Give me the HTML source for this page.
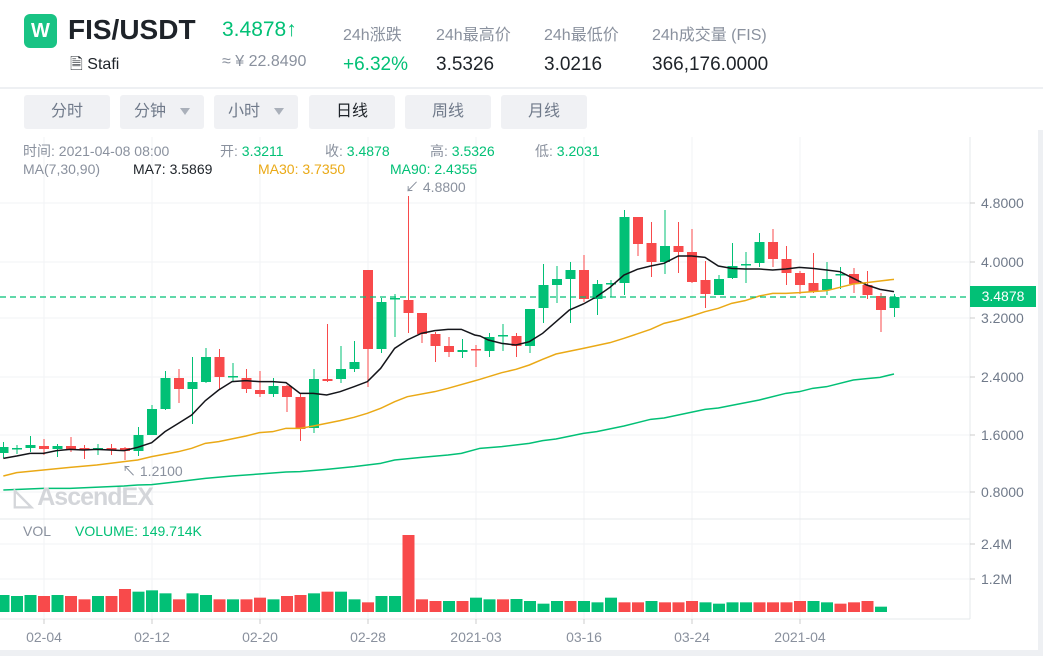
<!DOCTYPE html>
<html><head><meta charset="utf-8">
<style>
*{margin:0;padding:0;box-sizing:border-box}
body{width:1043px;height:656px;background:#fff;font-family:"Liberation Sans","Noto Sans CJK SC",sans-serif;position:relative;overflow:hidden}
.a{position:absolute;white-space:nowrap}
.btn{position:absolute;top:95px;height:34px;width:86px;background:#f0f1f4;border-radius:3px;color:#707a8a;font-size:16px;line-height:34px;text-align:center}
.tri{display:inline-block;width:0;height:0;border-left:5px solid transparent;border-right:5px solid transparent;border-top:7px solid #aab0ba;margin-left:14px;vertical-align:middle}
.g{color:#02c076}.k{color:#1e2329}.gr{color:#8a919e}
.i{font-size:14px}
</style></head><body>
<div class="a" style="left:24px;top:14px;width:33px;height:34px;background:#19c384;border-radius:6px;color:#fff;font-size:20px;font-weight:bold;text-align:center;line-height:34px">W</div>
<div class="a k" style="left:68px;top:14px;font-size:28px;font-weight:bold">FIS/USDT</div>
<div class="a k" style="left:70px;top:53px;font-size:16px">&#128462; Stafi</div>
<div class="a g" style="left:222px;top:18px;font-size:21px">3.4878↑</div>
<div class="a gr" style="left:222px;top:53px;font-size:16px">≈ ¥ 22.8490</div>
<div class="a gr" style="left:343px;top:21px;font-size:16px">24h涨跌</div>
<div class="a gr" style="left:436px;top:21px;font-size:16px">24h最高价</div>
<div class="a gr" style="left:544px;top:21px;font-size:16px">24h最低价</div>
<div class="a gr" style="left:652px;top:21px;font-size:16px">24h成交量 (FIS)</div>
<div class="a g" style="left:343px;top:54px;font-size:19px">+6.32%</div>
<div class="a k" style="left:436px;top:54px;font-size:19px">3.5326</div>
<div class="a k" style="left:544px;top:54px;font-size:19px">3.0216</div>
<div class="a k" style="left:652px;top:54px;font-size:19px">366,176.0000</div>
<div class="a" style="left:0;top:87px;width:1043px;height:2px;background:#eef0f3"></div>
<div class="btn" style="left:24px">分时</div>
<div class="btn" style="left:120px;width:84px">分钟<span class="tri"></span></div>
<div class="btn" style="left:214px;width:84px">小时<span class="tri"></span></div>
<div class="btn k" style="left:309px;color:#1e2329">日线</div>
<div class="btn" style="left:405px">周线</div>
<div class="btn" style="left:501px">月线</div>
<div class="a" style="left:0;top:650px;width:1043px;height:6px;background:#eef0f3"></div>
<div class="a" style="left:1038px;top:130px;width:5px;height:526px;background:#eef0f3"></div>
<svg class="a" style="left:0;top:0" width="1043" height="656" id="s"></svg>
<div class="a gr i" style="left:23px;top:141px">时间: 2021-04-08 08:00</div>
<div class="a gr i" style="left:220px;top:141px">开: <span class="g">3.3211</span></div>
<div class="a gr i" style="left:325px;top:141px">收: <span class="g">3.4878</span></div>
<div class="a gr i" style="left:430px;top:141px">高: <span class="g">3.5326</span></div>
<div class="a gr i" style="left:535px;top:141px">低: <span class="g">3.2031</span></div>
<div class="a gr i" style="left:23px;top:161px">MA(7,30,90)</div>
<div class="a k i" style="left:133px;top:161px">MA7: 3.5869</div>
<div class="a i" style="left:258px;top:161px;color:#eaa916">MA30: 3.7350</div>
<div class="a g i" style="left:390px;top:161px">MA90: 2.4355</div>
<div class="a gr i" style="left:405px;top:177px">↙ 4.8800</div>
<div class="a gr i" style="left:122px;top:461px">↖ 1.2100</div>
<div class="a" style="left:14px;top:482px;font-size:25px;color:#d4d6da;font-weight:bold;letter-spacing:-1px">◺ AscendEX</div>
<div class="a gr i" style="left:23px;top:523px">VOL</div>
<div class="a g i" style="left:75px;top:523px">VOLUME: 149.714K</div>
<div class="a" style="left:970px;top:286px;width:66px;height:21px;background:#02c076;color:#fff;font-size:14px;line-height:21px;text-align:center">3.4878</div>
<script>
var s=document.getElementById('s'),h='';
var G='#02c076',R='#f84a4b',X=function(i){return 3.5+13.5*i};
function L(x1,y1,x2,y2,c,w,d){h+='<line x1="'+x1+'" y1="'+y1+'" x2="'+x2+'" y2="'+y2+'" stroke="'+c+'" stroke-width="'+(w||1)+'"'+(d?' stroke-dasharray="'+d+'"':'')+'/>'}
[203,262,318,377,435,492,544,579].forEach(function(y){L(0,y,970,y,'#f2f3f5')});
[44,152,260,368,476,584,692,800].forEach(function(x){L(x,137,x,619,'#f2f3f5')});
L(0,519,970,519,'#e6e8eb');L(0,619,970,619,'#e6e8eb');L(970,137,970,619,'#e6e8eb');
var yl=[[203,'4.8000'],[262,'4.0000'],[318,'3.2000'],[377,'2.4000'],[435,'1.6000'],[492,'0.8000'],[544,'2.4M'],[579,'1.2M']];
yl.forEach(function(a){L(970,a[0],975,a[0],'#ccc');h+='<text x="981" y="'+(a[0]+5)+'" font-size="14" fill="#707a8a" font-family="Liberation Sans">'+a[1]+'</text>'});
var xl=[[44,'02-04'],[152,'02-12'],[260,'02-20'],[368,'02-28'],[476,'2021-03'],[584,'03-16'],[692,'03-24'],[800,'2021-04']];
xl.forEach(function(a){L(a[0],619,a[0],624,'#ccc');h+='<text x="'+a[0]+'" y="642" text-anchor="middle" font-size="14" fill="#8a919e" font-family="Liberation Sans">'+a[1]+'</text>'});
var C=[[0,G,447,453,442,458],[1,G,448,448,445,454],[2,G,445,448,436,452],[3,R,446,449,439,455],[4,G,446,449,444,457],[5,R,446,449,437,452],[6,R,448,450,445,459],[7,G,448,449,444,455],[8,R,448,450,444,455],[9,R,448,451,447,460],[10,G,435,451,427,456],[11,G,409,435,405,435],[12,G,378,409,371,410],[13,R,378,389,369,403],[14,G,382,389,357,424],[15,G,357,382,348,383],[16,R,357,377,349,389],[17,G,376,377,363,382],[18,R,378,389,369,393],[19,R,390,394,371,397],[20,G,386,394,378,397],[21,R,386,397,385,412],[22,R,397,429,393,441],[23,G,379,428,369,433],[24,R,379,381,324,382],[25,G,369,379,346,383],[26,G,362,369,341,372],[27,R,270,349,270,387],[28,G,302,349,298,353],[29,G,298,299,294,337],[30,R,300,313,196,333],[31,R,313,334,313,343],[32,R,334,346,332,362],[33,R,346,352,337,357],[34,G,350,352,339,358],[35,R,349,350,345,367],
[36,G,337,351,333,357],[37,G,335,336,324,351],[38,R,336,346,333,357],[39,G,309,346,309,353],[40,G,285,308,264,323],[41,G,279,285,266,303],[42,G,270,279,262,323],[43,R,270,299,255,302],[44,G,284,299,280,315],[45,G,283,284,280,297],[46,G,217,283,210,295],[47,R,217,244,217,256],[48,R,243,262,222,277],[49,G,246,262,210,274],[50,R,246,252,222,273],[51,R,252,282,229,283],[52,R,280,294,261,308],[53,G,279,295,275,295],[54,G,266,278,243,279],[55,G,264,264,252,283],[56,G,242,263,233,267],[57,R,242,259,229,267],[58,R,259,273,246,285],[59,R,273,285,271,294],[60,R,283,292,253,293],[61,G,279,290,262,295],[62,G,274,275,267,289],[63,R,274,284,268,293],[64,R,285,295,271,299],[65,R,296,310,293,332],[66,G,297,308,294,317]];
C.forEach(function(c){var x=X(c[0]);L(x,c[4],x,c[5],c[1]);var bh=Math.max(1.5,c[3]-c[2]);h+='<rect x="'+(x-5)+'" y="'+c[2]+'" width="10" height="'+bh+'" fill="'+c[1]+'"/>'});
var V1=[[G,240],[G,243],[G,240],[R,243],[G,240],[R,243],[R,253],[G,243],[R,243],[R,222],[G,230],[G,226],[G,235],[R,253],[G,235],[G,240],[R,253],[G,253],[R,253],[R,248],[G,253],[R,243],[R,240],[G,235],[R,230],[G,230],[G,253],[R,262],[G,243],[G,243],[R,60],[R,253],[R,258],[G,258],[R,258],[G,248],[G,253],[R,253]];
var V2=[[G,252],[G,258],[G,266],[G,258],[R,258],[G,258],[G,262],[G,248],[R,262],[R,262],[G,258],[R,262],[R,262],[R,258],[G,262],[G,266],[G,262],[G,262],[R,262],[R,262],[R,262],[R,258],[G,258],[G,262],[R,266],[R,262],[R,258],[G,275]];
V1.concat(V2).forEach(function(v,i){var y=515+v[1]/3;h+='<rect x="'+(X(i)-6)+'" y="'+y+'" width="12" height="'+(612-y)+'" fill="'+v[0]+'"/>'});
function P(a,b,c){var p=[];a.forEach(function(q){p.push((q[0]/3)+','+(180+q[1]/3))});b.forEach(function(q){p.push((480+q[0]/3)+','+(180+q[1]/3))});h+='<polyline fill="none" stroke="'+c+'" stroke-width="1.5" points="'+p.join(' ')+'"/>'}
P([[10,835],[50,828],[90,820],[130,820],[170,812],[210,808],[250,810],[290,808],[330,810],[372,812],[413,802],[455,788],[495,755],[535,730],[575,705],[616,662],[656,630],[696,605],[738,602],[778,605],[818,605],[858,608],[900,640],[940,640],[980,645],[1020,635],[1062,620],[1102,605],[1142,565],[1184,505],[1222,480],[1264,460],[1304,452],[1344,448],[1384,448],[1424,465]],
[[0,468],[25,480],[65,490],[108,495],[148,485],[188,460],[228,425],[268,390],[310,372],[350,350],[390,322],[432,285],[472,268],[512,258],[552,250],[595,228],[635,228],[675,232],[715,258],[755,265],[795,267],[838,267],[878,270],[918,267],[958,262],[998,265],[1040,270],[1080,275],[1120,295],[1160,315],[1200,328],[1242,335]],'#14151a');
P([[10,888],[50,878],[130,870],[210,862],[290,855],[372,845],[413,840],[455,830],[535,815],[575,805],[616,790],[656,785],[738,768],[778,758],[818,755],[858,745],[900,745],[940,738],[1020,722],[1062,712],[1102,700],[1142,685],[1184,665],[1222,650],[1304,635],[1344,625]],
[[0,598],[65,578],[108,568],[148,555],[188,538],[228,522],[310,505],[390,488],[432,475],[512,448],[552,430],[595,420],[635,408],[675,395],[715,385],[755,370],[795,362],[838,348],[878,340],[918,340],[958,338],[998,335],[1040,332],[1080,322],[1120,312],[1160,308],[1200,303],[1242,298]],'#eaa916');
P([[10,930],[130,925],[210,925],[372,918],[413,915],[455,914],[535,905],[616,895],[696,888],[778,882],[858,876],[900,875],[980,868],[1062,860],[1142,850],[1184,840],[1264,832],[1344,825],[1384,820]],
[[0,805],[65,800],[148,790],[188,782],[228,777],[310,760],[350,755],[432,738],[512,718],[552,714],[675,688],[715,684],[755,676],[838,660],[918,640],[958,635],[998,625],[1040,620],[1120,600],[1160,596],[1200,592],[1242,582]],'#02c076');
L(0,297,970,297,'#02c076',1.3,'6,4');
s.innerHTML=h;
</script>
</body></html>
